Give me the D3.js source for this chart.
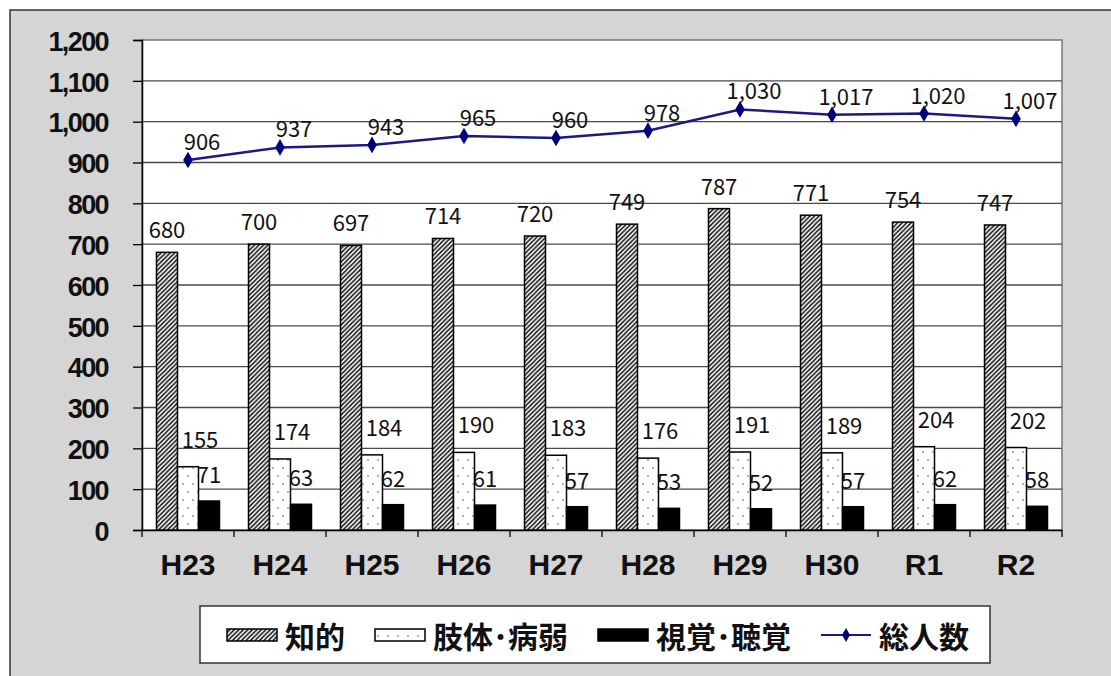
<!DOCTYPE html>
<html>
<head>
<meta charset="utf-8">
<script src="https://cdn.jsdelivr.net/npm/d3@7"></script>
<style>
  body { margin: 0; background: #fff; }
  svg { display: block; }
</style>
</head>
<body>
<svg id="chart" width="1111" height="676"></svg>
<script>
// data
const years = ["H23", "H24", "H25", "H26", "H27", "H28", "H29", "H30", "R1", "R2"];
const chiteki = [680, 700, 697, 714, 720, 749, 787, 771, 754, 747];
const shitai = [155, 174, 184, 190, 183, 176, 191, 189, 204, 202];
const shikaku = [71, 63, 62, 61, 57, 53, 52, 57, 62, 58];
const total = [906, 937, 943, 965, 960, 978, 1030, 1017, 1020, 1007];
const yTicks = [0, 100, 200, 300, 400, 500, 600, 700, 800, 900, 1000, 1100, 1200];

const seriesNames = ["知的", "肢体･病弱", "視覚･聴覚"];
const lineName = "総人数";

const svg = d3.select("#chart");
const fmt = d3.format(",");

// background frame
svg.append("rect").attr("width", 1111).attr("height", 676).attr("fill", "#fff");
svg.append("rect")
  .attr("x", 10).attr("y", 10).attr("width", 1120).attr("height", 700)
  .attr("fill", "#d5d5d5").attr("stroke", "#333").attr("stroke-width", 1.5);

// patterns
const defs = svg.append("defs");
const hatch = defs.append("pattern")
  .attr("id", "hatch").attr("patternUnits", "userSpaceOnUse")
  .attr("width", 4.5).attr("height", 4.5);
hatch.append("rect").attr("width", 4.5).attr("height", 4.5).attr("fill", "#fff");
hatch.append("path")
  .attr("d", "M-1,1 l2,-2 M0,4.5 l4.5,-4.5 M3.5,5.5 l2,-2")
  .attr("stroke", "#111").attr("stroke-width", 1.5);

const dots = defs.append("pattern")
  .attr("id", "dots").attr("patternUnits", "userSpaceOnUse")
  .attr("width", 10).attr("height", 16);
dots.append("rect").attr("width", 10).attr("height", 16).attr("fill", "#fff");
dots.append("circle").attr("cx", 3).attr("cy", 4).attr("r", 1).attr("fill", "#999");
dots.append("circle").attr("cx", 8).attr("cy", 12).attr("r", 1).attr("fill", "#999");

const fills = ["url(#hatch)", "url(#dots)", "#000"];

// scales
const x = d3.scaleBand().domain(years).range([142, 1062]);
const inner = d3.scaleBand().domain(seriesNames).range([14.5, 77.5]);
const y = d3.scaleLinear().domain([0, 1200]).range([530, 40]);

// plot area
svg.append("rect")
  .attr("x", 142).attr("y", y(1200))
  .attr("width", 920).attr("height", y(0) - y(1200))
  .attr("fill", "#fff").attr("stroke", "#777").attr("stroke-width", 1.5);

// gridlines
svg.append("g")
  .selectAll("line")
  .data(yTicks.filter((d) => d > 0 && d < 1200))
  .enter()
  .append("line")
  .attr("x1", 142).attr("x2", 1062)
  .attr("y1", (d) => y(d)).attr("y2", (d) => y(d))
  .attr("stroke", "#4a4a4a").attr("stroke-width", 1.3);

// y axis
const yAxis = svg.append("g")
  .attr("transform", "translate(142,0)")
  .call(d3.axisLeft(y).tickValues(yTicks).tickSize(9).tickPadding(25).tickFormat(fmt));
yAxis.select(".domain").attr("stroke", "#000").attr("stroke-width", 1.5);
yAxis.selectAll(".tick line").attr("stroke", "#000").attr("stroke-width", 1.3);
yAxis.selectAll("text")
  .attr("fill", "#111")
  .attr("dy", "0.38em")
  .style("font-family", "'Liberation Sans', Arial, sans-serif")
  .style("font-weight", "bold")
  .style("font-size", "27px")
  .style("letter-spacing", "-1.6px");

// x axis
const xAxis = svg.append("g")
  .attr("transform", "translate(0," + y(0) + ")")
  .call(d3.axisBottom(x).tickSize(0).tickPadding(24));
xAxis.select(".domain").attr("stroke", "#000").attr("stroke-width", 1.5);
xAxis.selectAll("text")
  .attr("fill", "#111")
  .style("font-family", "'Liberation Sans', Arial, sans-serif")
  .style("font-weight", "bold")
  .style("font-size", "30px");
// tick marks between categories
svg.append("g")
  .selectAll("line")
  .data(years)
  .enter()
  .append("line")
  .attr("x1", (d) => x(d) + x.bandwidth()).attr("x2", (d) => x(d) + x.bandwidth())
  .attr("y1", y(0)).attr("y2", y(0) + 7)
  .attr("stroke", "#000").attr("stroke-width", 1.3);
svg.append("line")
  .attr("x1", 142).attr("x2", 142).attr("y1", y(0)).attr("y2", y(0) + 7)
  .attr("stroke", "#000").attr("stroke-width", 1.3);

// bars
const barSeries = [chiteki, shitai, shikaku];
const labelFont = "'Noto Sans CJK JP', 'Noto Sans', sans-serif";
const labelNudge = [[0, 14], [12, 19], [0, 18]];

barSeries.forEach((values, si) => {
  const g = svg.append("g");
  g.selectAll("rect")
    .data(values)
    .enter()
    .append("rect")
    .attr("x", (d, i) => x(years[i]) + inner(seriesNames[si]))
    .attr("y", (d) => y(d))
    .attr("width", inner.bandwidth())
    .attr("height", (d) => y(0) - y(d))
    .attr("fill", fills[si])
    .attr("stroke", "#000")
    .attr("stroke-width", 1.5);
  g.selectAll("text")
    .data(values)
    .enter()
    .append("text")
    .attr("x", (d, i) => x(years[i]) + inner(seriesNames[si]) + inner.bandwidth() / 2 + labelNudge[si][0])
    .attr("y", (d) => y(d) - labelNudge[si][1])
    .attr("text-anchor", "middle")
    .style("font-family", labelFont)
    .style("font-size", "22px")
    .attr("fill", "#111")
    .text((d) => fmt(d));
});

// total line
const cx = (i) => x(years[i]) + x.bandwidth() / 2;
const line = d3.line().x((d, i) => cx(i)).y((d) => y(d));
svg.append("path")
  .datum(total)
  .attr("d", line)
  .attr("fill", "none")
  .attr("stroke", "#1a1a80")
  .attr("stroke-width", 2.5);

const diamond = d3.symbol().type(d3.symbolDiamond).size(80);
svg.append("g")
  .selectAll("path")
  .data(total)
  .enter()
  .append("path")
  .attr("d", diamond)
  .attr("transform", (d, i) => "translate(" + cx(i) + "," + y(d) + ")")
  .attr("fill", "#00007a");

svg.append("g")
  .selectAll("text")
  .data(total)
  .enter()
  .append("text")
  .attr("x", (d, i) => cx(i) + 14)
  .attr("y", (d) => y(d) - 10)
  .attr("text-anchor", "middle")
  .style("font-family", labelFont)
  .style("font-size", "22px")
  .attr("fill", "#111")
  .text((d) => fmt(d));

// legend
const legend = svg.append("g");
legend.append("rect")
  .attr("x", 200).attr("y", 606).attr("width", 790).attr("height", 57)
  .attr("fill", "#fff").attr("stroke", "#333").attr("stroke-width", 1.5);

const legendItems = seriesNames.map((name, i) => ({ name: name, fill: fills[i] }));
legendItems.push({ name: lineName, line: true });

let lx = 227;
legendItems.forEach((item) => {
  if (item.line) {
    legend.append("line")
      .attr("x1", lx).attr("x2", lx + 50).attr("y1", 635).attr("y2", 635)
      .attr("stroke", "#1a1a80").attr("stroke-width", 2);
    legend.append("path")
      .attr("d", d3.symbol().type(d3.symbolDiamond).size(55))
      .attr("transform", "translate(" + (lx + 25) + ",635)")
      .attr("fill", "#00007a");
  } else {
    legend.append("rect")
      .attr("x", lx).attr("y", 629).attr("width", 50).attr("height", 12)
      .attr("fill", item.fill).attr("stroke", "#000").attr("stroke-width", 1.5);
  }
  const t = legend.append("text")
    .attr("x", lx + 58)
    .attr("y", 635)
    .attr("dominant-baseline", "central")
    .style("font-family", labelFont)
    .style("font-weight", "bold")
    .style("font-size", "30px")
    .attr("fill", "#111")
    .text(item.name);
  lx += 58 + t.node().getComputedTextLength() + 30;
});
</script>
</body>
</html>
